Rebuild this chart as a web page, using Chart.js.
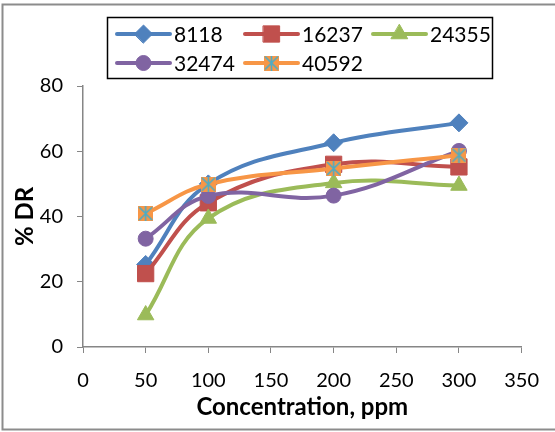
<!DOCTYPE html>
<html>
<head>
<meta charset="utf-8">
<script src="https://cdn.jsdelivr.net/npm/chart.js@4.4.1/dist/chart.umd.min.js"></script>
<style>
  html, body { margin: 0; padding: 0; background: #fff; }
  #chart { display: block; }
</style>
</head>
<body>
<canvas id="chart" width="555" height="432"></canvas>
<script>
'use strict';

// concentration in ppm
const concentrations = [50, 100, 200, 300];

// % DR for each polymer molecular weight
const seriesNames = ['8118', '16237', '24355', '32474', '40592'];
const dr8118  = [25.3, 50.0, 62.6, 68.7];
const dr16237 = [22.5, 44.2, 56.0, 55.2];
const dr24355 = [9.8, 39.4, 50.3, 49.5];
const dr32474 = [33.2, 46.3, 46.4, 60.1];
const dr40592 = [40.9, 49.9, 54.7, 58.8];

const xTicks = { min: 0, max: 350, step: 50 };
const yTicks = { min: 0, max: 80, step: 20 };

const FONT = 'Lato, "Open Sans", sans-serif';
const AXIS_GREY = '#868686';

// orange square with a teal asterisk, like the Excel marker
function starMarker(size) {
    const c = document.createElement('canvas');
    c.width = size;
    c.height = size;
    const g = c.getContext('2d');
    g.fillStyle = '#F79646';
    g.fillRect(0, 0, size, size);
    g.strokeStyle = '#4BACC6';
    g.lineWidth = 1.6;
    g.beginPath();
    g.moveTo(1, 1); g.lineTo(size - 1, size - 1);
    g.moveTo(size - 1, 1); g.lineTo(1, size - 1);
    g.moveTo(size / 2, 0); g.lineTo(size / 2, size);
    g.stroke();
    return c;
}

function toPoints(values) {
    return values.map((v, i) => ({ x: concentrations[i], y: v }));
}

const styles = [
    { color: '#4F81BD', point: 'rectRot', radius: 9 },
    { color: '#C0504D', point: 'rect', radius: 11.5 },
    { color: '#9BBB59', point: 'triangle', radius: 9.5 },
    { color: '#8064A2', point: 'circle', radius: 7.5 },
    { color: '#F79646', point: starMarker(15), radius: 7.5 }
];
const values = [dr8118, dr16237, dr24355, dr32474, dr40592];

const datasets = values.map((vals, i) => ({
    label: seriesNames[i],
    data: toPoints(vals),
    borderColor: styles[i].color,
    backgroundColor: styles[i].color,
    pointBackgroundColor: styles[i].color,
    pointBorderColor: styles[i].color,
    pointBorderWidth: 1,
    pointStyle: styles[i].point,
    pointRadius: styles[i].radius,
    pointHoverRadius: styles[i].radius,
    borderWidth: 4,
    tension: 0.4,
    fill: false,
    order: values.length - i   // later series on top, as in Excel
}));

// Excel style boxed legend, three columns
const boxLegend = {
    id: 'boxLegend',
    afterDraw(chart) {
        const ctx = chart.ctx;
        ctx.save();
        ctx.strokeStyle = '#000';
        ctx.lineWidth = 1.5;
        ctx.strokeRect(107.5, 17.5, 385, 61);

        ctx.font = '21px ' + FONT;
        ctx.textBaseline = 'middle';
        ctx.textAlign = 'left';
        chart.data.datasets.forEach((ds, i) => {
            const col = i % 3;
            const row = Math.floor(i / 3);
            const x = 117 + col * 128;
            const y = 34 + row * 29;
            ctx.strokeStyle = ds.borderColor;
            ctx.lineWidth = 4;
            ctx.lineCap = 'round';
            ctx.beginPath();
            ctx.moveTo(x, y);
            ctx.lineTo(x + 53, y);
            ctx.stroke();
            ctx.fillStyle = ds.pointBackgroundColor;
            ctx.strokeStyle = ds.pointBorderColor;
            ctx.lineWidth = 1;
            Chart.helpers.drawPoint(ctx, {
                pointStyle: ds.pointStyle,
                radius: ds.pointRadius,
                borderWidth: 1,
                rotation: 0
            }, x + 26.5, y);
            ctx.fillStyle = '#000';
            ctx.fillText(ds.label, x + 57, y + 1);
        });

        // outer frame of the chart object
        ctx.strokeStyle = '#8c8c8c';
        ctx.lineWidth = 2;
        ctx.strokeRect(2.5, 4.5, 600, 425);
        ctx.restore();
    }
};

new Chart(document.getElementById('chart'), {
    type: 'line',
    data: { datasets: datasets },
    plugins: [boxLegend],
    options: {
        responsive: false,
        animation: false,
        layout: { padding: { top: 86, left: 4, right: 31, bottom: 0 } },
        plugins: {
            legend: { display: false },
            tooltip: { enabled: false }
        },
        scales: {
            x: {
                type: 'linear',
                min: xTicks.min,
                max: xTicks.max,
                afterFit(scale) { scale.height = 85; },
                ticks: {
                    stepSize: xTicks.step,
                    color: '#000',
                    padding: 16,
                    font: { family: FONT, size: 20 },
                    maxRotation: 0
                },
                grid: {
                    drawOnChartArea: false,
                    tickLength: 6,
                    color: AXIS_GREY
                },
                border: { color: AXIS_GREY, width: 1.5 },
                title: {
                    display: true,
                    text: 'Concentration, ppm',
                    color: '#000',
                    font: { family: FONT, size: 24, weight: 'bold' },
                    padding: { top: 0, bottom: 10 }
                }
            },
            y: {
                min: yTicks.min,
                max: yTicks.max,
                afterFit(scale) { scale.width = 79; },
                ticks: {
                    stepSize: yTicks.step,
                    color: '#000',
                    padding: 14,
                    font: { family: FONT, size: 20 }
                },
                grid: {
                    drawOnChartArea: false,
                    tickLength: 6,
                    color: AXIS_GREY
                },
                border: { color: AXIS_GREY, width: 1.5 },
                title: {
                    display: true,
                    text: '% DR',
                    color: '#000',
                    font: { family: FONT, size: 24, weight: 'bold' },
                    padding: { top: 7, bottom: 0 }
                }
            }
        }
    }
});
</script>
</body>
</html>
